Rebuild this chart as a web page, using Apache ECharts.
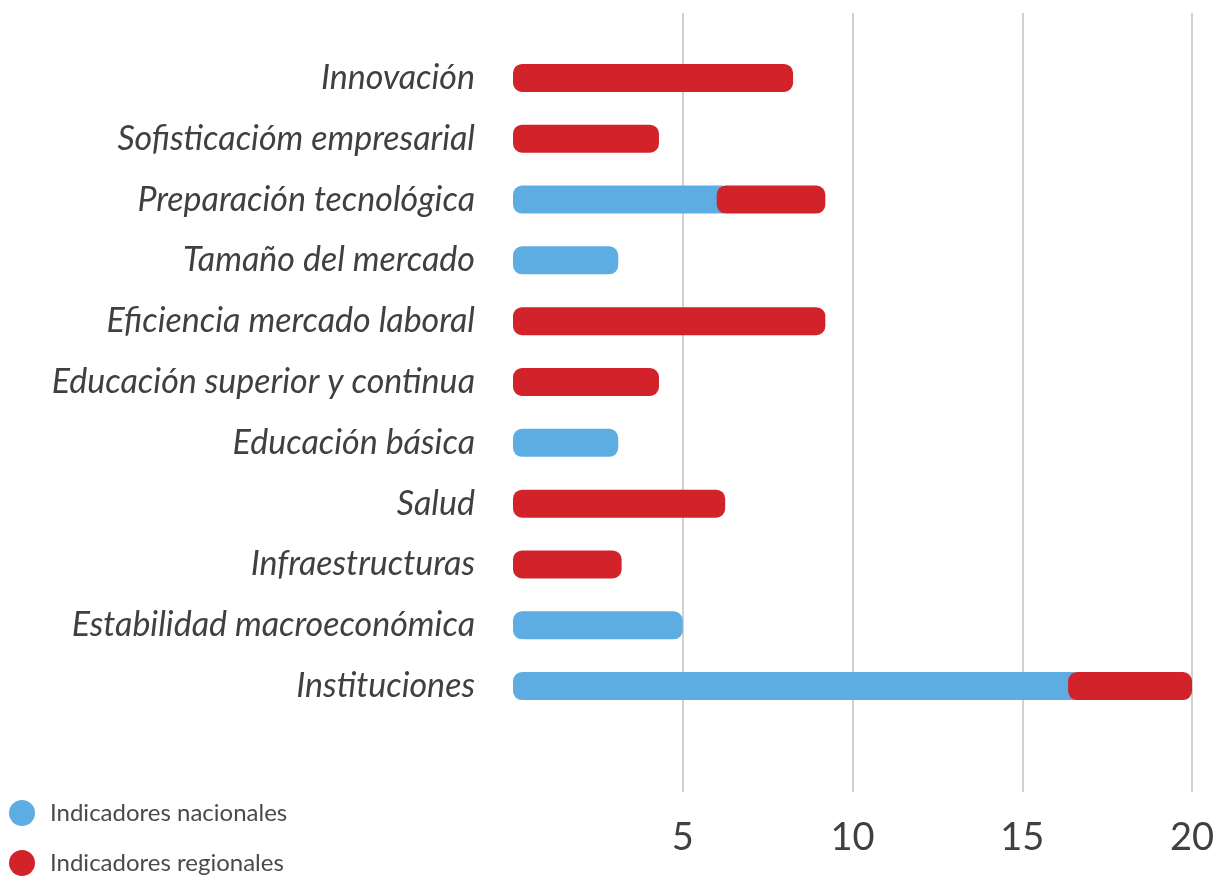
<!DOCTYPE html>
<html>
<head>
<meta charset="utf-8">
<script src="https://cdn.jsdelivr.net/npm/echarts@6/dist/echarts.min.js"></script>
<style>
html,body{margin:0;padding:0;background:#fff;}
#chart{width:1222px;height:876px;}
</style>
</head>
<body>
<div id="chart"></div>
<script>
const categories = ['Innovación','Sofisticacióm empresarial','Preparación tecnológica','Tamaño del mercado','Eficiencia mercado laboral','Educación superior y continua','Educación básica','Salud','Infraestructuras','Estabilidad macroeconómica','Instituciones'];
const nacionales = [0, 0, 6.0, 3.1, 0, 0, 3.1, 0, 0, 5.0, 16.35];
const regionales = [8.25, 4.3, 3.2, 0, 9.2, 4.3, 0, 6.25, 3.2, 0, 3.65];
const seriesNames = ['Indicadores nacionales', 'Indicadores regionales'];
const xTicks = [0, 5, 10, 15, 20];

const BLUE = '#5dade2', RED = '#d2232a', TXT = '#404040';
const BAR_H = 28, RADIUS = 9, OVERLAP = 14;

const data = categories.map((c, i) => [nacionales[i], c, regionales[i]]);

const chart = echarts.init(document.getElementById('chart'));
chart.setOption({
  animation: false,
  backgroundColor: '#fff',
  textStyle: {fontFamily: 'Lato'},
  grid: [
    {left: 513, width: 679, top: 47.5, height: 669},
    {left: 513, width: 679, top: 13, height: 779}
  ],
  xAxis: [
    {gridIndex: 0, type: 'value', min: xTicks[0], max: xTicks[xTicks.length-1], interval: 5, show: false},
    {gridIndex: 1, type: 'value', min: xTicks[0], max: xTicks[xTicks.length-1], interval: 5,
     axisLine: {show: false}, axisTick: {show: false},
     splitLine: {show: true, showMinLine: false, lineStyle: {color: '#c2c2c2', width: 1.5}},
     axisLabel: {showMinLabel: false, fontSize: 38, color: TXT, fontFamily: 'Lato', margin: 27}}
  ],
  yAxis: [
    {gridIndex: 0, type: 'category', data: categories, inverse: true,
     axisLine: {show: false}, axisTick: {show: false}, splitLine: {show: false},
     axisLabel: {fontSize: 34, fontStyle: 'italic', color: TXT, fontFamily: 'Lato', margin: 38}},
    {gridIndex: 1, type: 'value', min: 0, max: 1, show: false}
  ],
  legend: {
    orient: 'vertical', left: 9, top: 800, height: 80, padding: 0,
    itemWidth: 26, itemHeight: 26, itemGap: 24,
    icon: 'circle',
    textStyle: {fontSize: 24, color: '#4a4a4a', fontFamily: 'Lato', padding: [0,0,0,10]},
    data: seriesNames
  },
  series: [
    {
      name: seriesNames[0], type: 'custom', xAxisIndex: 0, yAxisIndex: 0,
      itemStyle: {color: BLUE},
      encode: {x: 0, y: 1},
      data: data,
      renderItem: function (params, api) {
        const b = api.value(0), r = api.value(2), c = api.value(1);
        if (!b) return null;
        const p0 = api.coord([0, c]);
        const p1 = api.coord([b, c]);
        const w = p1[0] - p0[0] + (r > 0 ? OVERLAP : 0);
        return {type: 'rect', shape: {x: p0[0], y: p0[1] - BAR_H/2, width: w, height: BAR_H, r: RADIUS},
                style: {fill: BLUE}};
      },
      z: 2
    },
    {
      name: seriesNames[1], type: 'custom', xAxisIndex: 0, yAxisIndex: 0,
      itemStyle: {color: RED},
      encode: {x: 0, y: 1},
      data: data,
      renderItem: function (params, api) {
        const b = api.value(0), r = api.value(2), c = api.value(1);
        if (!r) return null;
        const p0 = api.coord([b, c]);
        const p1 = api.coord([b + r, c]);
        return {type: 'rect', shape: {x: p0[0], y: p0[1] - BAR_H/2, width: p1[0] - p0[0], height: BAR_H, r: RADIUS},
                style: {fill: RED}};
      },
      z: 3
    }
  ]
});
</script>
</body>
</html>
